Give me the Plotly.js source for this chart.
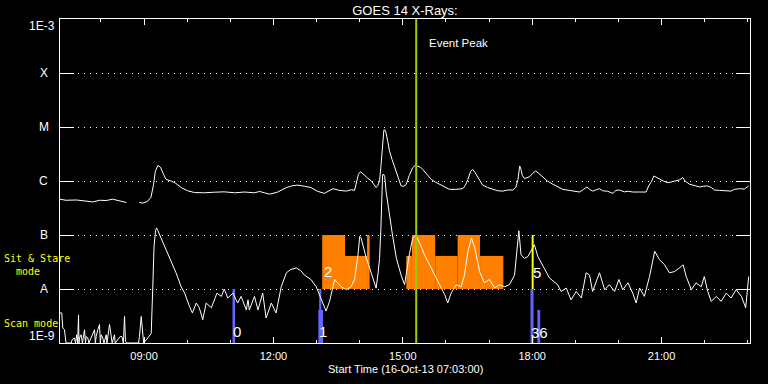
<!DOCTYPE html>
<html><head><meta charset="utf-8">
<script src="https://cdn.plot.ly/plotly-3.0.1.min.js"></script>
<style>html,body{margin:0;padding:0;background:#000}#chart{width:768px;height:384px}</style>
</head><body><div id="chart"></div>
<script>
// Times in decimal hours on 16-Oct-2013, flux in W/m^2
const upperT = [7.05,7.19,7.43,7.66,7.81,7.97,8.12,8.27,8.39,8.51,8.59,8.75,8.89,8.97,9.08,9.16,9.22,9.26,9.32,9.38,9.45,9.51,9.64,9.73,9.86,10.01,10.17,10.4,10.63,10.86,11.1,11.33,11.56,11.68,11.79,11.91,12.09,12.3,12.42,12.56,12.72,12.87,13.02,13.18,13.38,13.53,13.69,13.81,13.88,13.93,13.97,14.02,14.06,14.11,14.19,14.27,14.32,14.38,14.42,14.46,14.49,14.52,14.54,14.56,14.59,14.61,14.65,14.69,14.75,14.81,14.88,14.96,15.02,15.08,15.15,15.23,15.29,15.35,15.41,15.46,15.55,15.66,15.76,15.85,15.97,16.08,16.22,16.39,16.45,16.51,16.57,16.62,16.67,16.74,16.85,16.96,17.09,17.2,17.32,17.43,17.55,17.62,17.67,17.7,17.71,17.74,17.77,17.82,17.89,17.94,18.01,18.08,18.15,18.25,18.35,18.48,18.59,18.71,18.86,18.98,19.1,19.19,19.27,19.33,19.4,19.49,19.56,19.63,19.75,19.87,19.94,20.02,20.14,20.23,20.33,20.49,20.64,20.7,20.77,20.82,20.88,20.95,21.05,21.15,21.23,21.34,21.42,21.49,21.55,21.65,21.76,21.88,21.97,22.07,22.16,22.23,22.34,22.46,22.61,22.69,22.81,22.92,23.02];
const upperF = [4.6e-7,4.4e-7,4.45e-7,4.3e-7,4.1e-7,4.4e-7,4.35e-7,4.6e-7,4.4e-7,4.2e-7,4.0e-7,null,4.0e-7,3.9e-7,4.2e-7,5.0e-7,8.7e-7,1.5e-6,1.95e-6,1.8e-6,1.33e-6,1.07e-6,9.9e-7,9.1e-7,7.55e-7,6.6e-7,6.1e-7,6.05e-7,6.2e-7,6.3e-7,6.05e-7,6.25e-7,6.05e-7,6.4e-7,6.05e-7,5.7e-7,6.2e-7,7.55e-7,8.1e-7,8.4e-7,8.0e-7,7.55e-7,6.45e-7,5.9e-7,7.2e-7,6.7e-7,6.5e-7,6.9e-7,6.7e-7,9.5e-7,1.33e-6,1.49e-6,1.39e-6,1.24e-6,1.12e-6,1.0e-6,8.7e-7,7.55e-7,8.3e-7,1.0e-6,1.8e-6,3.35e-6,6.4e-6,8.8e-6,8.7e-6,7.85e-6,5.4e-6,3.6e-6,2.5e-6,1.77e-6,1.17e-6,8.1e-7,8.0e-7,8.7e-7,1.27e-6,1.77e-6,1.95e-6,1.9e-6,1.8e-6,1.64e-6,1.33e-6,1.07e-6,9.5e-7,8.7e-7,7.6e-7,7.0e-7,7.0e-7,7.2e-7,8.3e-7,1.07e-6,1.5e-6,1.64e-6,1.45e-6,1.16e-6,8.4e-7,7.6e-7,7.0e-7,6.6e-7,6.5e-7,6.8e-7,6.8e-7,7.6e-7,1.07e-6,1.64e-6,1.9e-6,1.64e-6,1.27e-6,1.11e-6,1.15e-6,1.2e-6,1.39e-6,1.53e-6,1.39e-6,1.16e-6,1.0e-6,8.7e-7,7.8e-7,7.0e-7,6.7e-7,6.4e-7,6.25e-7,7.0e-7,7.75e-7,7.0e-7,6.5e-7,6.9e-7,7.2e-7,6.6e-7,6.45e-7,5.9e-7,6.7e-7,6.8e-7,6.3e-7,6.45e-7,6.25e-7,6.25e-7,6.25e-7,8.1e-7,9.9e-7,1.24e-6,1.17e-6,1.07e-6,9.9e-7,9.3e-7,9.7e-7,1.0e-6,1.05e-6,1.16e-6,9.9e-7,8.7e-7,8.15e-7,7.75e-7,8.0e-7,8.1e-7,7.5e-7,6.8e-7,6.7e-7,6.7e-7,6.5e-7,7.0e-7,7.2e-7,7.1e-7,8.1e-7];

const lowerT = [7.05,7.09,7.115,7.154,7.19,7.31,7.33,7.386,7.41,7.44,7.46,7.479,7.49,7.502,7.54,7.57,7.618,7.64,7.657,7.695,7.72,7.81,7.85,7.87,7.889,7.927,7.966,7.985,8.005,8.042,8.07,8.121,8.14,8.198,8.237,8.26,8.314,8.33,8.446,8.483,8.52,8.546,8.569,8.6,8.87,8.893,8.933,8.97,8.99,9.086,9.165,9.2,9.23,9.265,9.29,9.32,9.43,9.59,9.74,9.86,9.94,10.05,10.12,10.21,10.28,10.36,10.44,10.56,10.69,10.79,10.86,10.94,11.06,11.17,11.25,11.37,11.41,11.44,11.56,11.64,11.75,11.83,11.95,12.06,12.18,12.3,12.4,12.53,12.63,12.72,12.87,12.99,13.11,13.22,13.3,13.42,13.57,13.69,13.8,13.88,13.96,14.0,14.03,14.07,14.15,14.23,14.31,14.38,14.42,14.46,14.49,14.51,14.53,14.55,14.58,14.61,14.69,14.76,14.85,14.96,15.04,15.12,15.15,15.23,15.27,15.3,15.39,15.5,15.62,15.73,15.85,15.97,16.04,16.12,16.24,16.35,16.43,16.51,16.59,16.67,16.78,16.89,17.01,17.13,17.24,17.36,17.47,17.59,17.64,17.69,17.74,17.82,17.9,17.98,18.05,18.13,18.21,18.25,18.4,18.59,18.67,18.79,18.9,19.02,19.14,19.25,19.33,19.4,19.56,19.68,19.79,19.91,20.01,20.1,20.22,20.33,20.41,20.49,20.6,20.72,20.8,20.84,20.95,21.07,21.18,21.3,21.41,21.5,21.57,21.69,21.8,21.92,21.99,22.07,22.15,22.27,22.38,22.5,22.61,22.73,22.85,22.95,23.02];
const lowerF = [3.6e-9,3.6e-9,1.9e-9,1.76e-9,1.0e-9,1.0e-9,1.15e-9,1.24e-9,1.0e-9,1.42e-9,1.0e-9,3.3e-9,1.0e-9,1.24e-9,1.42e-9,1.0e-9,1.76e-9,1.0e-9,1.32e-9,1.24e-9,1.0e-9,1.5e-9,1.76e-9,1.0e-9,1.32e-9,1.76e-9,2.2e-9,1.0e-9,1.42e-9,1.24e-9,1.0e-9,1.42e-9,1.0e-9,2.2e-9,1.32e-9,1.0e-9,1.42e-9,1.0e-9,1.32e-9,1.32e-9,1.0e-9,3.1e-9,1.07e-9,1.0e-9,1.0e-9,1.32e-9,3.1e-9,1.24e-9,1.0e-9,1.24e-9,1.5e-9,1.0e-8,6e-8,1.2e-7,1.35e-7,1.2e-7,7.6e-8,4.0e-8,2.0e-8,1.1e-8,8.4e-9,4.8e-9,3.6e-9,5.5e-9,4.5e-9,2.7e-9,5.5e-9,4.5e-9,8.4e-9,7.3e-9,1.0e-8,6.8e-9,8.4e-9,5.5e-9,7.3e-9,4.1e-9,6.3e-9,4.1e-9,7.3e-9,4.1e-9,8.4e-9,2.9e-9,5.5e-9,3.6e-9,1.1e-8,2.0e-8,2.3e-8,2.45e-8,2.2e-8,1.8e-8,1.5e-8,1.1e-8,6.3e-9,3.9e-9,5.9e-9,1.5e-8,1.1e-8,9.7e-9,1.1e-8,1.5e-8,4.3e-8,9.4e-8,8.9e-8,6.6e-8,3.8e-8,2.45e-8,1.5e-8,1.04e-8,1.8e-8,3.7e-8,1.25e-7,4.5e-7,1.3e-6,1.35e-6,1.2e-6,6.5e-7,2.2e-7,1.0e-7,3.7e-8,1.8e-8,1.2e-8,3.2e-8,4.3e-8,8.8e-8,9.4e-8,1.0e-7,7.1e-8,4.3e-8,2.8e-8,1.8e-8,1.2e-8,7.9e-9,5.5e-9,8.4e-9,1.2e-8,1.1e-8,1.8e-8,5.0e-8,8.8e-8,5.7e-8,2.1e-8,1.3e-8,1.5e-8,1.04e-8,1.2e-8,1.1e-8,1.2e-8,1.8e-8,4.3e-8,1.2e-7,4.3e-8,3.7e-8,4.0e-8,5.3e-8,6.6e-8,4.0e-8,3.0e-8,2.6e-8,1.6e-8,1.2e-8,9.0e-9,1.04e-8,6.3e-9,9.0e-9,6.8e-9,2.0e-8,1.8e-8,9.0e-9,2.0e-8,9.7e-9,1.2e-8,9.0e-9,1.5e-8,9.7e-9,1.3e-8,8.4e-9,5.5e-9,1.04e-8,7.3e-9,1.7e-8,3.5e-8,5.0e-8,3.5e-8,2.8e-8,2.0e-8,2.1e-8,2.45e-8,2.8e-8,1.7e-8,9.7e-9,1.3e-8,1.1e-8,1.7e-8,9.0e-9,5.9e-9,7.3e-9,5.9e-9,8.4e-9,6.8e-9,9.7e-9,7.3e-9,4.5e-9,1.7e-8];

// Sit & Stare mode periods
const stareStart = [13.13,13.66,14.17,15.08,15.21,15.75,16.27,16.79];
const stareEnd   = [13.66,14.17,14.23,15.21,15.75,16.27,16.79,17.33];
const stareTop   = [1e-7,4.1e-8,1e-7,4.1e-8,1e-7,4.1e-8,1e-7,4.1e-8];
const stareBase = 1e-8;
// Scan mode periods
const scanStart = [11.05,13.04,13.06,17.96,18.12];
const scanEnd   = [11.11,13.15,13.11,18.03,18.185];
const scanTop   = [1e-8,4.1e-9,1e-8,1e-8,4.1e-9];
const scanBase = 1e-9;
// numbered markers
const markLabels = ['0','1','2','36','5'];
const markT = [11.15,13.16,13.26,18.16,18.12];
const markLogY = [-8.79,-8.78,-7.675,-8.8,-7.69];
// Event peak
const peakT = 15.31;
const yellowT = 18.01;
// Y labels
const yLabels = ['1E-3','X','M','C','B','A','1E-9'];
const yLabelVals = [-3,-4,-5,-6,-7,-8,-9];
const xTickHours = [9,12,15,18,21];

function pad(n){return (n<10?'0':'')+n;}
function hd(h){
  const tot = Math.round(h*3600);
  const hh = Math.floor(tot/3600), mm = Math.floor((tot%3600)/60), ss = tot%60;
  return '2013-10-16 '+pad(hh)+':'+pad(mm)+':'+pad(ss);
}
const FONT = 'Liberation Sans, Arial, sans-serif';
const MONO = 'DejaVu Sans Mono, monospace';

const traces = [];
traces.push({type:'bar', x: stareStart.map((s,i)=>hd((s+stareEnd[i])/2)),
  width: stareStart.map((s,i)=>(stareEnd[i]-s)*3600000),
  base: stareStart.map(()=>stareBase), y: stareTop.map(t=>t-stareBase),
  marker:{color:'#ff8000', line:{width:0}}, hoverinfo:'skip'});
traces.push({type:'bar', x: scanStart.map((s,i)=>hd((s+scanEnd[i])/2)),
  width: scanStart.map((s,i)=>(scanEnd[i]-s)*3600000),
  base: scanStart.map(()=>scanBase), y: scanTop.map(t=>t-scanBase),
  marker:{color:'#6464ff', line:{width:0}}, hoverinfo:'skip'});
traces.push({type:'scatter', mode:'lines', x: upperT.map(hd), y: upperF,
  line:{color:'white', width:1}, connectgaps:false});
traces.push({type:'scatter', mode:'lines', x: lowerT.map(hd), y: lowerF,
  line:{color:'white', width:1}});
traces.push({type:'scatter', mode:'lines', x:[hd(peakT),hd(peakT)], y:[1e-9,1e-3],
  line:{color:'#9ccc00', width:2}});
traces.push({type:'scatter', mode:'lines', x:[hd(yellowT),hd(yellowT)], y:[1e-8,1e-7],
  line:{color:'#ffff00', width:2}});

const ann = [];
yLabels.forEach((t,i)=>{
  const v = yLabelVals[i];
  const isNum = t.length>1;
  ann.push({text:t, xref:'paper', yref:'y', x: isNum ? -0.0045 : -0.0232, y: v,
    xanchor: isNum ? 'right':'center',
    yanchor: v===-3 ? 'top' : (v===-9 ? 'bottom' : 'middle'),
    yshift: v===-3 ? 2 : (v===-9 ? -2 : 0),
    showarrow:false, font:{family:FONT, size:12, color:'white'}});
});
markLabels.forEach((t,i)=>{
  ann.push({text:t, xref:'x', yref:'y', x: hd(markT[i]), y: markLogY[i], xanchor:'center', yanchor:'middle',
    showarrow:false, font:{family:FONT, size:15, color:'white'}});
});
ann.push({text:'Event Peak', xref:'x', yref:'y', x: hd(15.565), y:-3.444, xanchor:'left', yanchor:'middle',
  showarrow:false, font:{family:FONT, size:11.5, color:'white'}});
ann.push({text:'Sit & Stare<br>\u00a0\u00a0mode', xref:'paper', yref:'y', x:(2-60)/690, y:-7.556,
  xanchor:'left', yanchor:'middle', align:'left',
  showarrow:false, font:{family:MONO, size:10, color:'#ffff00'}});
ann.push({text:'Scan mode', xref:'paper', yref:'y', x:(1.7-60)/690, y:-8.63, xanchor:'left', yanchor:'middle',
  showarrow:false, font:{family:MONO, size:10, color:'#ffff00'}});
ann.push({text:'Start Time (16-Oct-13 07:03:00)', xref:'paper', yref:'paper', x:0.5, y:(343-368.8)/324,
  xanchor:'center', yanchor:'middle', showarrow:false, font:{family:FONT, size:11, color:'white'}});

const layout = {
  width:768, height:384,
  paper_bgcolor:'#000', plot_bgcolor:'#000',
  margin:{l:60, r:18, t:19, b:41},
  showlegend:false, hovermode:false, barmode:'overlay',
  title:{text:'GOES 14 X-Rays:', font:{family:FONT, size:13, color:'white'},
    x:0.5, xref:'paper', y:1-10/384, yref:'container', yanchor:'middle'},
  xaxis:{type:'date', range:[hd(7.05), hd(23.05)],
    tickvals: xTickHours.map(hd), tickformat:'%H:%M',
    ticks:'inside', ticklen:6, tickcolor:'white', tickwidth:1,
    minor:{dtick:3600000, tick0:'2013-10-16 07:00:00', ticks:'inside', ticklen:3, tickcolor:'white', showgrid:false},
    showline:true, linecolor:'white', linewidth:1, mirror:'ticks',
    showgrid:false, zeroline:false, ticklabelstandoff:3,
    tickfont:{family:FONT, size:11, color:'white'}},
  yaxis:{type:'log', range:[-9,-3],
    tickvals: yLabelVals.map(v=>Math.pow(10,v)),
    showticklabels:false,
    ticks:'inside', ticklen:14, tickcolor:'white', tickwidth:1,
    showline:true, linecolor:'white', linewidth:1, mirror:'ticks',
    showgrid:true, gridcolor:'white', gridwidth:1, griddash:'1px,5px', zeroline:false},
  annotations: ann
};
Plotly.newPlot('chart', traces, layout, {staticPlot:true, displayModeBar:false});
</script></body></html>
